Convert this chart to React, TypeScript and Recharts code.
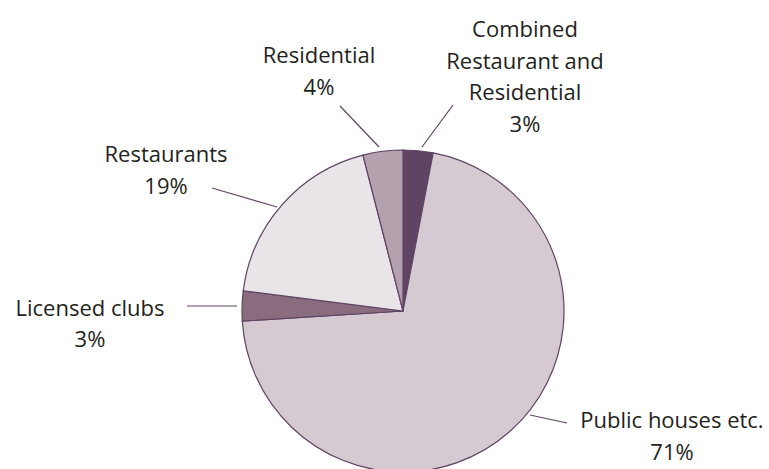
import React from "react";
import { PieChart, Pie, Cell } from "recharts";

// Share of premises by type (%), clockwise from 12 o'clock
const categories = [
  "Combined Restaurant and Residential",
  "Public houses etc.",
  "Licensed clubs",
  "Restaurants",
  "Residential",
];
const shares = [3, 71, 3, 19, 4];
const labelLines = [
  ["Combined", "Restaurant and", "Residential"],
  ["Public houses etc."],
  ["Licensed clubs"],
  ["Restaurants"],
  ["Residential"],
];

const COLORS = ["#5f4463", "#d6cad2", "#8a6c7f", "#e9e4e8", "#b3a1ae"];
const STROKE = "#5f4463";

const CX = 403;
const CY = 311;
const R = 161;

// leader line end points and text block centre, in px relative to the pie centre
const LABEL_LAYOUT = [
  { from: [19, -164], to: [50, -206], tx: 122, ty: -235.5 },
  { from: [127, 104], to: [164, 112], tx: 269, ty: 124 },
  { from: [-166, -5], to: [-216, -5], tx: -313, ty: 11.5 },
  { from: [-126, -104], to: [-191, -123], tx: -237, ty: -142 },
  { from: [-24, -164], to: [-63, -205], tx: -84, ty: -241 },
];

const LINE_H = 31.7;

const data = categories.map((name, i) => ({ name, value: shares[i] }));

const renderLabel = (props: any) => {
  const { index, percent } = props;
  const lay = LABEL_LAYOUT[index];
  const lines = [...labelLines[index], `${Math.round(percent * 100)}%`];
  const top = CY + lay.ty - ((lines.length - 1) * LINE_H) / 2;
  return (
    <g key={`lbl-${index}`}>
      <line
        x1={CX + lay.from[0]}
        y1={CY + lay.from[1]}
        x2={CX + lay.to[0]}
        y2={CY + lay.to[1]}
        stroke={STROKE}
        strokeWidth={1.2}
      />
      <text
        x={CX + lay.tx}
        y={top}
        textAnchor="middle"
        dominantBaseline="central"
        fill="#231f20"
        fontSize={22}
        fontFamily="'Open Sans', sans-serif"
      >
        {lines.map((t, k) => (
          <tspan key={k} x={CX + lay.tx} y={top + k * LINE_H}>
            {t}
          </tspan>
        ))}
      </text>
    </g>
  );
};

export default function App() {
  return (
    <div style={{ position: "fixed", left: 0, top: 0, background: "#fff" }}>
      <PieChart width={769} height={469} margin={{ top: 0, right: 0, bottom: 0, left: 0 }}>
        <Pie
          data={data}
          dataKey="value"
          nameKey="name"
          cx={CX}
          cy={CY}
          outerRadius={R}
          startAngle={90}
          endAngle={-270}
          stroke={STROKE}
          strokeWidth={1.2}
          label={renderLabel}
          labelLine={false}
          isAnimationActive={false}
        >
          {data.map((entry, i) => (
            <Cell key={`cell-${entry.name}`} fill={COLORS[i]} />
          ))}
        </Pie>
      </PieChart>
    </div>
  );
}
